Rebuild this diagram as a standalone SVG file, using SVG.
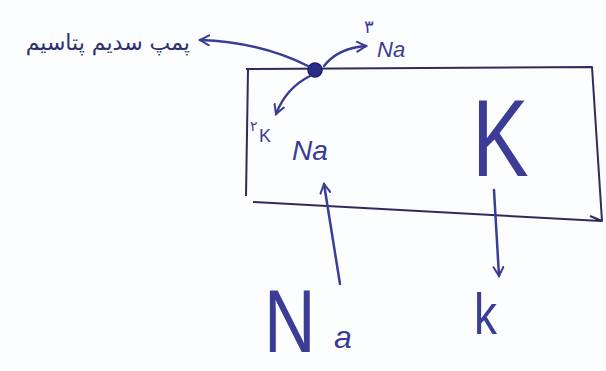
<svg xmlns="http://www.w3.org/2000/svg" width="606" height="371" viewBox="0 0 606 371">
<defs>
<style>
.ink{fill:none;stroke:#3a3c96;stroke-width:2.5;stroke-linecap:round;stroke-linejoin:round}
.box{fill:none;stroke:#2c2d5e;stroke-width:2;stroke-linejoin:round}
.t{fill:#3a3c96;font-family:"Liberation Sans","DejaVu Sans",sans-serif}
.fa{fill:#2e3070;font-family:"DejaVu Sans","Noto Sans",sans-serif}
</style>
<marker id="ah" viewBox="0 0 12 12" refX="10" refY="6" markerWidth="12" markerHeight="12" markerUnits="userSpaceOnUse" orient="auto">
<path d="M1,1 L10,6 L1,11" fill="none" stroke="#3a3c96" stroke-width="2" stroke-linecap="round"/>
</marker>
</defs>
<rect width="606" height="371" fill="#fbfdfe"/>
<g id="cell">
<path class="box" d="M248,70 L246,196 M246,69 L592,67 L602,221 L590,216 M253,202 L601,221"/>
</g>
<g id="pump">
<circle cx="315" cy="70" r="7" fill="#2a2c8a" stroke="#1e1f5e" stroke-width="1.5"/>
</g>
<g id="connectors">
<path class="ink" d="M308,66 Q260,42 200,40" marker-end="url(#ah)"/>
<path class="ink" d="M324,66 Q338,48 366,46" marker-end="url(#ah)"/>
<path class="ink" d="M310,76 Q286,88 276,114" marker-end="url(#ah)"/>
<path class="ink" d="M340,284 L324,184" marker-end="url(#ah)"/>
<path class="ink" d="M494,190 L499,276" marker-end="url(#ah)"/>
</g>
<g id="label-pump">
<text class="fa" x="190" y="50" font-size="22" text-anchor="start" direction="rtl">پمپ سدیم پتاسیم</text>
</g>
<g id="label-3na">
<text class="t" x="364" y="33" font-size="18" font-family="DejaVu Sans">۳</text>
<text class="t" x="377" y="57" font-size="22" font-style="italic">Na</text>
</g>
<g id="label-2k">
<text class="t" x="250" y="131" font-size="14" font-family="DejaVu Sans">۲</text>
<text class="t" x="259" y="142" font-size="18">K</text>
</g>
<g id="label-na-in">
<text class="t" x="292" y="160" font-size="28" font-style="italic">Na</text>
</g>
<g id="label-k-in">
<text class="t" font-size="100" font-weight="300" transform="translate(472,176) scale(0.85,1.1)">K</text>
</g>
<g id="label-na-out">
<text class="t" font-size="68" font-weight="300" transform="translate(264,352) scale(1.05,1.3)">N</text>
<text class="t" x="334" y="348" font-size="32" font-style="italic">a</text>
</g>
<g id="label-k-out">
<text class="t" font-size="46" font-weight="300" transform="translate(474,334) scale(1,1.25)">k</text>
</g>
</svg>
